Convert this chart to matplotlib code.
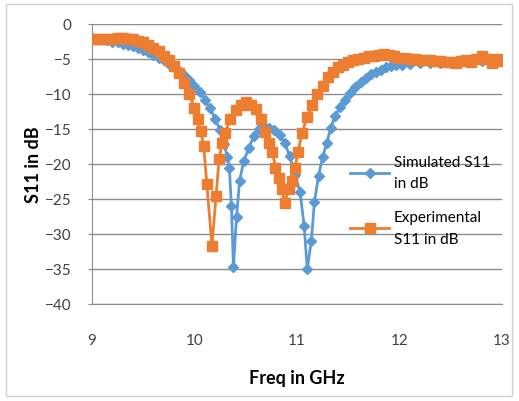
import matplotlib.pyplot as plt
from matplotlib.patches import Rectangle

# Simulated S11 (blue)
sim_freq = [9.00, 9.05, 9.10, 9.15, 9.20, 9.25, 9.30, 9.35, 9.40, 9.45,
            9.50, 9.55, 9.60, 9.65, 9.70, 9.75, 9.80, 9.85, 9.90, 9.95,
            10.00, 10.05, 10.10, 10.15, 10.20, 10.25, 10.29, 10.32, 10.34, 10.36,
            10.38, 10.41, 10.44, 10.48, 10.53, 10.58, 10.63, 10.68, 10.73, 10.78,
            10.83, 10.88, 10.93, 10.98, 11.03, 11.07, 11.10, 11.14, 11.17, 11.21,
            11.25, 11.29, 11.33, 11.37, 11.42, 11.47, 11.52, 11.57, 11.62, 11.67,
            11.72, 11.77, 11.82, 11.87, 11.92, 11.97, 12.02, 12.10, 12.20, 12.30,
            12.40, 12.50, 12.60, 12.70, 12.80, 12.90, 13.00]
sim_s11 = [-2.0, -2.1, -2.2, -2.3, -2.5, -2.6, -2.8, -3.0, -3.2, -3.4,
           -3.7, -4.0, -4.4, -4.8, -5.2, -5.7, -6.2, -6.7, -7.3, -8.0,
           -8.8, -9.7, -10.8, -12.0, -13.5, -15.2, -17.2, -19.0, -20.5, -26.0,
           -34.7, -27.6, -22.4, -19.6, -17.7, -16.0, -15.0, -14.6, -14.8, -15.2,
           -15.9, -17.0, -18.9, -21.5, -24.0, -28.9, -35.0, -31.0, -25.4, -21.7,
           -19.0, -17.0, -14.8, -13.2, -11.9, -10.8, -9.8, -9.0, -8.3, -7.7,
           -7.2, -6.8, -6.5, -6.2, -6.0, -5.9, -5.8, -5.7, -5.6, -5.6,
           -5.5, -5.5, -5.4, -5.4, -5.3, -5.2, -5.1]

# Experimental S11 (orange)
exp_freq = [9.00, 9.05, 9.10, 9.15, 9.20, 9.25, 9.30, 9.35, 9.40, 9.45,
            9.50, 9.55, 9.60, 9.65, 9.70, 9.75, 9.80, 9.85, 9.90, 9.95,
            10.00, 10.03, 10.06, 10.09, 10.12, 10.17, 10.21, 10.24, 10.27, 10.30,
            10.35, 10.40, 10.45, 10.50, 10.55, 10.60, 10.65, 10.69, 10.73, 10.76,
            10.79, 10.82, 10.85, 10.88, 10.92, 10.95, 10.98, 11.01, 11.05, 11.10,
            11.15, 11.20, 11.25, 11.30, 11.35, 11.40, 11.45, 11.50, 11.55, 11.60,
            11.65, 11.70, 11.75, 11.80, 11.85, 11.90, 11.95, 12.00, 12.05, 12.10,
            12.15, 12.20, 12.25, 12.30, 12.35, 12.40, 12.45, 12.50, 12.55, 12.60,
            12.65, 12.70, 12.75, 12.80, 12.85, 12.90, 12.95, 13.00]
exp_s11 = [-2.1, -2.1, -2.2, -2.2, -2.1, -2.0, -2.0, -2.1, -2.2, -2.4,
           -2.6, -3.0, -3.4, -3.9, -4.5, -5.2, -6.0, -7.0, -8.4, -10.0,
           -12.0, -13.6, -15.3, -17.4, -22.8, -31.7, -24.6, -19.3, -17.0, -15.5,
           -13.6, -12.3, -11.5, -11.2, -11.5, -12.2, -13.6, -15.4, -17.0, -18.3,
           -20.5, -22.0, -23.6, -25.6, -23.5, -22.4, -20.5, -18.3, -15.5, -13.3,
           -11.5, -10.0, -8.8, -7.6, -6.8, -6.2, -5.8, -5.4, -5.2, -5.0,
           -4.8, -4.6, -4.5, -4.4, -4.3, -4.4, -4.6, -4.8, -4.9, -5.0,
           -5.0, -5.1, -5.2, -5.2, -5.3, -5.3, -5.4, -5.4, -5.5, -5.3,
           -5.2, -5.4, -5.0, -4.6, -5.0, -5.5, -5.0, -5.3]

x_ticks = [9, 10, 11, 12, 13]
y_ticks = [0, -5, -10, -15, -20, -25, -30, -35, -40]

plt.rcParams["font.family"] = ["Lato", "DejaVu Sans"]

fig = plt.figure(figsize=(5.19, 4.02), dpi=100)
ax = fig.add_axes([92 / 519, 1 - 305 / 402, 410 / 519, 280 / 402])

# outer chart border
fig.patches.append(Rectangle((6 / 519, 5 / 402), 506 / 519, 392 / 402,
                             transform=fig.transFigure, fill=False,
                             edgecolor="#d0d0d0", linewidth=1))

blue = "#5b9bd5"
orange = "#ed7d31"

ax.plot(sim_freq, sim_s11, color=blue, linewidth=2, marker="D", markersize=5,
        label="Simulated S11\nin dB", zorder=3)
ax.plot(exp_freq, exp_s11, color=orange, linewidth=2, marker="s", markersize=7,
        label="Experimental\nS11 in dB", zorder=4)

ax.set_xlim(9, 13)
ax.set_ylim(-40, 0)
ax.set_xticks(x_ticks)
ax.set_yticks(y_ticks)
ax.grid(True, axis="y", color="#8c8c8c", linewidth=1)
ax.set_axisbelow(True)

for side in ["top", "right"]:
    ax.spines[side].set_visible(False)
for side in ["left", "bottom"]:
    ax.spines[side].set_color("#8c8c8c")

ax.tick_params(axis="x", length=0, pad=21, labelsize=11, colors="#404040")
ax.tick_params(axis="y", length=3, pad=12, labelsize=11, colors="#404040",
               color="#8c8c8c")

ax.set_xlabel("Freq in GHz", fontsize=13, fontweight="bold", labelpad=16)
ax.set_ylabel("S11 in dB", fontsize=13, fontweight="bold", labelpad=2)

leg = ax.legend(loc="upper left", bbox_to_anchor=(336 / 519, 1 - 142 / 402),
                bbox_transform=fig.transFigure, frameon=False, fontsize=11,
                handlelength=2.6, labelspacing=1.3, handletextpad=0.3)
for t in leg.get_texts():
    t.set_linespacing(1.7)

fig.savefig("out.png", dpi=100)
